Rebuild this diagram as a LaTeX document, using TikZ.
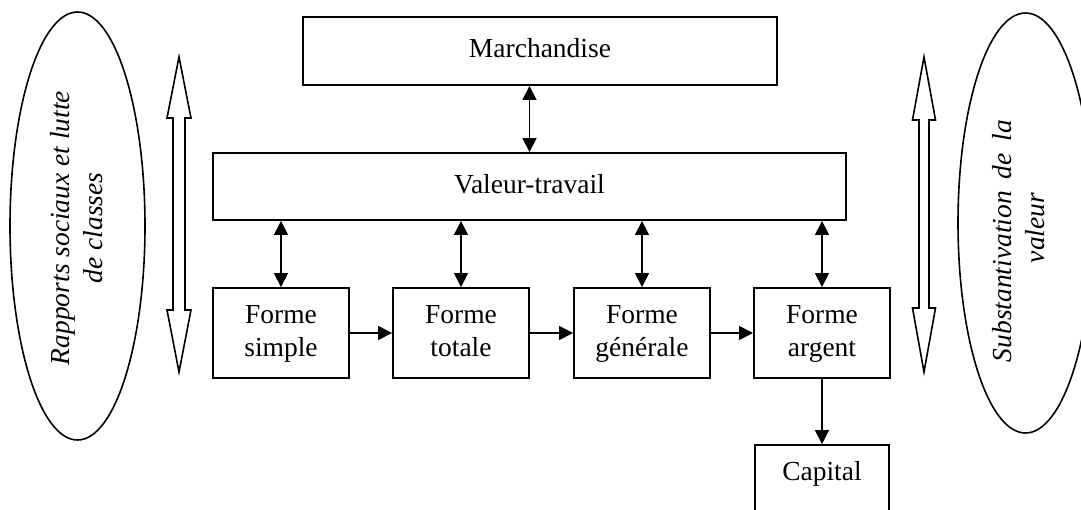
\documentclass[tikz,border=0pt]{standalone}
\usepackage{fontspec}
\setmainfont{Liberation Serif}
\usetikzlibrary{arrows.meta}
\begin{document}
\begin{tikzpicture}[x=1pt,y=-1pt,
  font=\fontsize{27.5}{33}\selectfont,
  box/.style={draw,line width=1.9pt,rectangle,inner sep=0pt,align=center},
  conn/.style={line width=1.7pt,{Triangle[length=14pt,width=14pt]}-{Triangle[length=14pt,width=14pt]}},
  oneway/.style={line width=1.7pt,-{Triangle[length=14pt,width=14pt]}},
  hollow/.style={draw,line width=1.6pt,fill=white,line join=miter},
  oval/.style={draw,line width=1.6pt},
  sidetext/.style={rotate=90,align=center,inner sep=0pt,font=\fontsize{27.5}{33}\selectfont\itshape}]
\useasboundingbox (0,0) rectangle (1081,510);
\clip (0,0) rectangle (1081,510);

% ellipses
\draw[oval] (77.5,226) ellipse [x radius=67.5, y radius=214];
\node[sidetext] (tl) at (77,228) {Rapports sociaux et lutte\\de classes\hspace{13pt}};
\draw[oval] (1025.5,223) ellipse [x radius=67.5, y radius=210];
\node[sidetext] (tr) at (1019,241) {Substantivation\hspace{12pt}de\hspace{12pt}la\\\hspace{26pt}valeur};

% hollow double arrows
\draw[hollow] (179,57) -- (191,118) -- (185,118) -- (185,310) -- (191,310) -- (179,372)
  -- (167,310) -- (173,310) -- (173,118) -- (167,118) -- cycle;
\draw[hollow] (924,57) -- (935.5,120) -- (929,120) -- (929,308) -- (935.5,308) -- (924,372)
  -- (912.5,308) -- (919,308) -- (919,120) -- (912.5,120) -- cycle;

% boxes
\node[box,minimum width=474pt,minimum height=68pt] (M) at (540,51) {\raisebox{6pt}{Marchandise}};
\node[box,minimum width=633pt,minimum height=67pt] (V) at (529.5,186.5) {Valeur-travail\strut};
\node[box,minimum width=136pt,minimum height=90pt] (F1) at (281,333) {Forme\strut\\simple\strut};
\node[box,minimum width=136pt,minimum height=90pt] (F2) at (461,333) {Forme\strut\\totale\strut};
\node[box,minimum width=136pt,minimum height=90pt] (F3) at (642,333) {Forme\strut\\générale\strut};
\node[box,minimum width=136pt,minimum height=90pt] (F4) at (822,333) {Forme\strut\\argent\strut};
\node[box,minimum width=134pt,minimum height=90pt] (C) at (822,490) {Capital\strut\\\strut};

% connectors
\draw[conn] (M.south -| V.north) -- (V.north);
\draw[conn] (V.south -| F1.north) -- (F1.north);
\draw[conn] (V.south -| F2.north) -- (F2.north);
\draw[conn] (V.south -| F3.north) -- (F3.north);
\draw[conn] (V.south -| F4.north) -- (F4.north);
\draw[oneway] (F1.east) -- (F2.west);
\draw[oneway] (F2.east) -- (F3.west);
\draw[oneway] (F3.east) -- (F4.west);
\draw[oneway] (F4.south) -- (C.north);
\end{tikzpicture}
\end{document}
